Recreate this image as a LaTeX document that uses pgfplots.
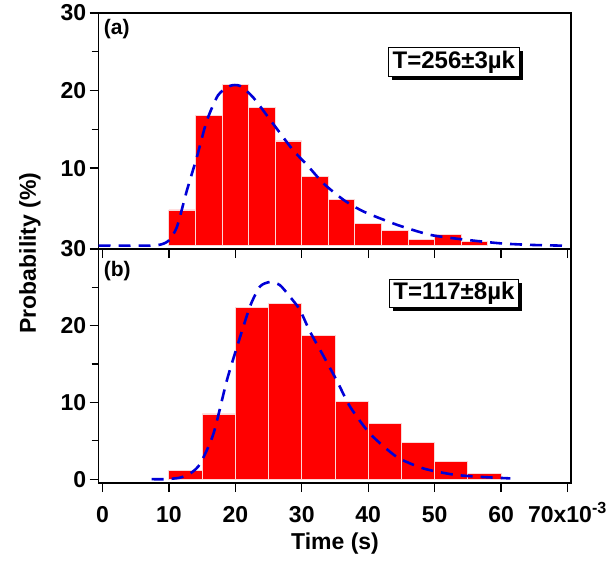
\documentclass[border=0pt]{standalone}
\usepackage{pgfplots}
\pgfplotsset{compat=1.18}
\usepackage{fontspec}
\setmainfont{Liberation Sans}
\usetikzlibrary{shadows}
\definecolor{fitblue}{RGB}{0,0,215}
\definecolor{barred}{RGB}{255,0,0}
\definecolor{baredge}{RGB}{250,215,215}
\pgfplotsset{
  panel/.style={
    scale only axis, width=472.3bp,
    xmin=-0.57, xmax=70.53,
    axis line style={line width=1.3pt},
    every tick/.style={line width=1.3pt, black},
    tick align=outside,
    xtick pos=lower, ytick pos=left,
    xtick={0,10,...,70},
    minor y tick num=1,
    major tick length=9bp, minor tick length=7bp,
    tick label style={font=\fontsize{23bp}{27bp}\selectfont\bfseries},
    xticklabel style={yshift=-11bp},
    /pgf/number format/assume math mode=true,
  },
  histbar/.style={ybar interval, fill=barred, draw=baredge, line width=0.9pt},
  fitline/.style={fitblue, line width=2.6pt, dash pattern=on 12bp off 8bp, smooth, tension=0.4},
}
\tikzset{
  tbox/.style={draw=black, line width=1pt, fill=white, inner xsep=4bp, inner ysep=3bp,
    drop shadow={shadow xshift=3.5bp, shadow yshift=-3.5bp, fill=black, opacity=1},
    font=\fontsize{24bp}{28bp}\selectfont\bfseries},
}
\begin{document}
\begin{tikzpicture}
\path[use as bounding box] (-98.7bp,13bp) rectangle (508.3bp,-549bp);
% ---------- panel (a)
\begin{axis}[panel, name=top, at={(0,0)}, anchor=north west,
  height=236bp, ymin=-0.43, ymax=30, ytick={10,20,30}, xticklabels={}]
\addplot[histbar] coordinates {
 (10,4.6) (14,16.8) (18,20.8) (22,17.8) (26,13.5) (30,8.9) (34,5.9)
 (38,2.9) (42,2.0) (46,0.8) (50,1.5) (54,0.55) (58,0.55)};
\addplot[fitline] coordinates {
 (-0.6,0) (4,0) (8.2,0.05) (9.9,0.6) (11.2,2.4) (12.7,7.1) (14.2,11.4)
 (15.7,16.1) (17.4,19.4) (19.2,20.6) (20.7,20.6) (22.7,19.1) (25.7,15.7)
 (28.7,12.3) (30.8,10.4) (33.3,8.0) (36.3,5.9) (39.3,4.4) (44.3,2.7)
 (49.3,1.4) (54.3,0.8) (59.9,0.3) (64.4,0.1) (69.4,0)};
\node[anchor=north west, inner sep=1bp, font=\fontsize{21bp}{25bp}\selectfont\bfseries]
  at ([xshift=4bp,yshift=-5bp]rel axis cs:0,1) {(a)};
\node[tbox] at (axis cs:52.9,23.7) {T=256±3µk};
\end{axis}
% ---------- panel (b)
\begin{axis}[panel, name=bot, at={(0,-236bp)}, anchor=north west,
  height=234bp, ymin=-0.5, ymax=30, ytick={0,10,20,30},
  xticklabels={0,10,20,30,40,50,60,{70x10\smash{\textsuperscript{-3}}}}]
\addplot[histbar] coordinates {
 (10,1.16) (15,8.5) (20,22.4) (25,22.9) (30,18.7) (35,10.1) (40,7.3)
 (45,4.8) (50,2.3) (55,0.74) (60,0.74)};
\addplot[fitline] coordinates {
 (7.4,0) (9.5,0) (11.7,0.2) (13.3,0.8) (14.7,2.0) (16.7,5.9) (18.7,12.8)
 (20.2,17.1) (22.2,22.5) (23.7,25.1) (25.2,25.7) (26.7,25.3) (28.2,23.8)
 (29.7,22.1) (31.2,19.3) (33.3,16.0) (35.3,12.8) (37.3,9.4) (40.3,5.9)
 (44.3,2.9) (48.3,1.4) (52.8,0.6) (56.9,0.3) (61.4,0.1)};
\node[anchor=north west, inner sep=1bp, font=\fontsize{21bp}{25bp}\selectfont\bfseries]
  at ([xshift=4bp,yshift=-11bp]rel axis cs:0,1) {(b)};
\node[tbox] at (axis cs:52.9,24.2) {T=117±8µk};
\end{axis}
\node[rotate=90, font=\fontsize{23bp}{27bp}\selectfont\bfseries] at (-68.7bp,-240bp) {Probability (\%)};
\node[font=\fontsize{23bp}{27bp}\selectfont\bfseries] at (236.3bp,-531bp) {Time (s)};
\end{tikzpicture}
\end{document}
